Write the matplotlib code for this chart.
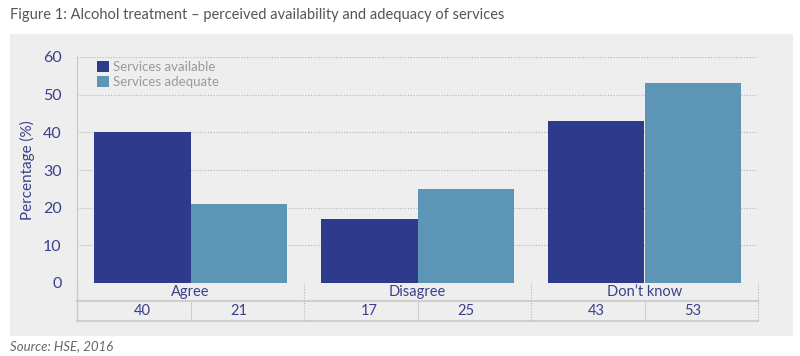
import numpy as np
import matplotlib
matplotlib.use("Agg")
import matplotlib.pyplot as plt
from matplotlib.patches import Rectangle
from matplotlib.transforms import blended_transform_factory

categories = ["Agree", "Disagree", "Don\u2019t know"]
series_names = ["Services available", "Services adequate"]
available = [40, 17, 43]
adequate = [21, 25, 53]

DARK = "#2e3a8c"
LIGHT = "#5d95b7"
PANEL = "#efeeee"
NAVY = "#3b3f8c"
GRID = "#b5b5b5"

plt.rcParams["font.family"] = ["Lato", "DejaVu Sans"]

fig = plt.figure(figsize=(8, 3.56), dpi=100)
fig.patch.set_facecolor("white")
fig.patches.append(Rectangle((10 / 800, 1 - 336 / 356), 783 / 800, 302 / 356,
                             transform=fig.transFigure, facecolor=PANEL,
                             edgecolor="none", zorder=-5))

ax = fig.add_axes([77 / 800, 1 - 283 / 356, 681 / 800, 226 / 356])
ax.set_facecolor("none")

x = np.arange(len(categories))
w = 0.427
ax.bar(x - w / 2, available, w, color=DARK, label=series_names[0], zorder=3)
ax.bar(x + w / 2, adequate, w, color=LIGHT, label=series_names[1], zorder=3)

ax.set_xlim(-0.5, 2.5)
ax.set_ylim(0, 60)
ax.set_yticks(range(0, 61, 10))
ax.set_xticks([])
ax.tick_params(axis="y", length=0, pad=11, labelsize=11.5, labelcolor=NAVY)
for s in ["top", "right", "bottom"]:
    ax.spines[s].set_visible(False)
ax.spines["left"].set_color("#c8c8c8")
for v in range(10, 61, 10):
    ax.axhline(v, color=GRID, lw=0.8, ls=(0, (1, 1.5)), zorder=1)

ax.set_ylabel("Percentage (%)", color=NAVY, fontsize=11, labelpad=6)

leg = ax.legend(loc="upper left", bbox_to_anchor=(0.012, 1.035), frameon=False,
                handlelength=0.9, handleheight=0.9, handletextpad=0.3,
                labelspacing=0.25, fontsize=9.5)
for t in leg.get_texts():
    t.set_color("#9a9a9a")

# table below the axis
tr = blended_transform_factory(ax.transData, ax.transAxes)
r1 = -18 / 226
r2 = -38 / 226
ax.plot([-0.5, 2.5], [r1, r1], transform=tr, color="#cfcfcf", lw=1.5, clip_on=False)
ax.plot([-0.5, 2.5], [r2, r2], transform=tr, color="#cfcfcf", lw=1.5, clip_on=False)
ax.plot([-0.5, -0.5], [0, r2], transform=tr, color="#c8c8c8", lw=1, clip_on=False)
for b in [0.5, 1.5, 2.5]:
    ax.plot([b, b], [0, r2], transform=tr, color=GRID, lw=0.8,
            ls=(0, (1, 1.5)), clip_on=False)
for i in x:
    ax.plot([i, i], [r1, r2], transform=tr, color="#cfcfcf", lw=0.8, clip_on=False)
    ax.text(i, r1 / 2, categories[i], transform=tr, ha="center", va="center",
            color=NAVY, fontsize=10.5)
    ax.text(i - w / 2, (r1 + r2) / 2, str(available[i]), transform=tr,
            ha="center", va="center", color=NAVY, fontsize=10.5)
    ax.text(i + w / 2, (r1 + r2) / 2, str(adequate[i]), transform=tr,
            ha="center", va="center", color=NAVY, fontsize=10.5)

fig.text(10 / 800, 1 - 15 / 356,
         "Figure 1: Alcohol treatment \u2013 perceived availability and adequacy of services",
         fontsize=10.5, color="#555555", va="center", ha="left")
fig.text(10 / 800, 1 - 346 / 356, "Source: HSE, 2016", fontsize=9.5,
         color="#666666", style="italic", va="center", ha="left")

fig.savefig("out.png", dpi=100)
